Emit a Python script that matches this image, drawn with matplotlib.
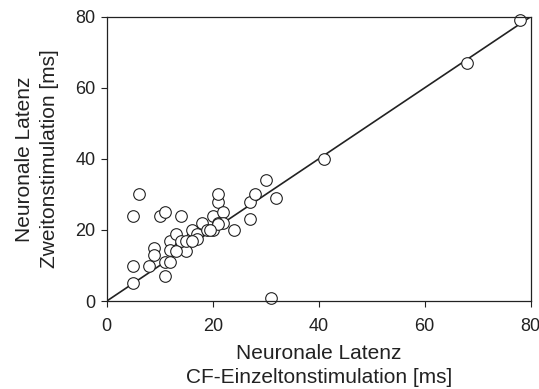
import matplotlib
matplotlib.use("Agg")
import matplotlib.pyplot as plt

# latency pairs (CF single tone vs. second stimulation), in ms
einzelton = [6, 5, 10, 11, 14, 5, 5, 8, 9, 9, 11, 11, 12, 12, 13, 12, 14, 15,
             14, 16, 16, 17, 17, 18, 19, 20, 20, 21, 21, 21, 22, 22, 24, 27, 27,
             28, 30, 32, 31, 41, 68, 78, 13, 15, 16, 21, 19.5]
zweiton = [30, 24, 24, 25, 24, 10, 5, 10, 15, 13, 7, 11, 11, 17, 19, 14.5, 15, 14,
           17, 18, 20, 19, 17.5, 22, 20, 20, 24, 22, 28, 30, 25, 22, 20, 28, 23,
           30, 34, 29, 1, 40, 67, 79, 14, 17, 17, 21.8, 20]
diag = [0, 80]

plt.rcParams.update({
    "font.family": ["Liberation Sans", "DejaVu Sans"],
    "text.color": "#222222",
    "axes.labelcolor": "#222222",
    "xtick.color": "#222222",
    "ytick.color": "#222222",
})

fig = plt.figure(figsize=(5.39, 3.89), dpi=100)
ax = fig.add_axes([0.198, 0.226, 0.7866, 0.731])

ax.plot(diag, diag, color="#222222", lw=1.2, zorder=1)
ax.scatter(einzelton, zweiton, s=70, facecolor="white", edgecolor="#222222",
           linewidth=0.8, zorder=2, clip_on=False)

ax.set_xlim(0, 80)
ax.set_ylim(0, 80)
ax.set_xticks([0, 20, 40, 60, 80])
ax.set_yticks([0, 20, 40, 60, 80])
ax.tick_params(labelsize=13, length=4, width=0.8)
ax.tick_params(axis="x", pad=8)
ax.tick_params(axis="y", pad=4)
for s in ax.spines.values():
    s.set_linewidth(0.9)
    s.set_color("#222222")

ax.set_xlabel("Neuronale Latenz\nCF-Einzeltonstimulation [ms]", fontsize=15,
              labelpad=7, linespacing=1.3)
ax.set_ylabel("Neuronale Latenz\nZweitonstimulation [ms]", fontsize=15,
              labelpad=12, linespacing=1.35)

fig.savefig("out.png", dpi=100)
